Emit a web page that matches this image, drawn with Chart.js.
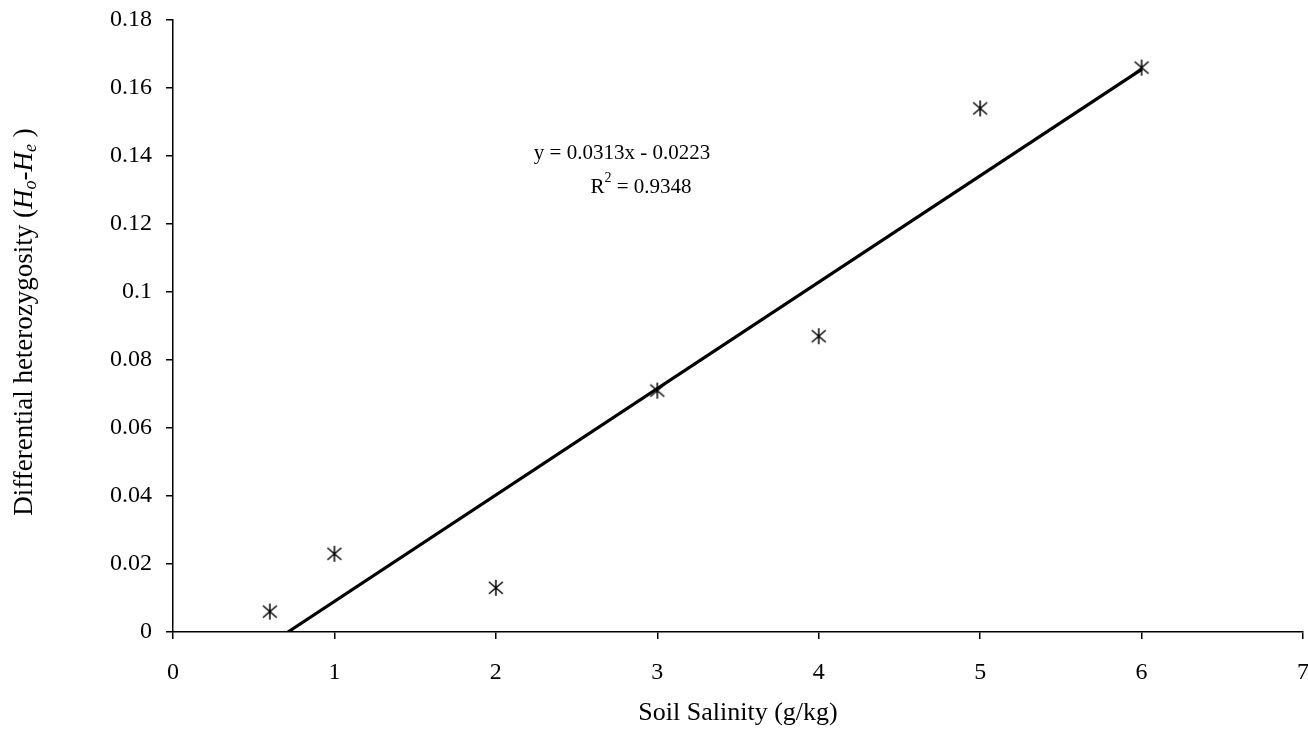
<!DOCTYPE html>
<html>
<head>
<meta charset="utf-8">
<script src="https://cdn.jsdelivr.net/npm/chart.js@4.4.1/dist/chart.umd.min.js"></script>
<style>
  html, body { margin: 0; padding: 0; background: #fff; }
  #wrap { width: 1308px; height: 732px; }
</style>
</head>
<body>
<div id="wrap"><canvas id="c"></canvas></div>
<script>
const salinity = [0.6, 1, 2, 3, 4, 5, 6]
const heteroDiff = [0.006, 0.023, 0.013, 0.071, 0.087, 0.154, 0.166]
const trendX = [0.712, 6]
const trendY = [0, 0.1655]
const eqLine = 'y = 0.0313x - 0.0223'
const r2Value = '0.9348'
const xTicks = [0, 1, 2, 3, 4, 5, 6, 7]
const yTicks = [0, 0.02, 0.04, 0.06, 0.08, 0.1, 0.12, 0.14, 0.16, 0.18]

const serif = "'Liberation Serif', 'Times New Roman', serif"

// asterisk marker: X plus a vertical bar
const mark = document.createElement('canvas')
mark.width = 18; mark.height = 18
{
  const g = mark.getContext('2d')
  g.strokeStyle = '#000'
  g.lineWidth = 1.5
  g.beginPath()
  g.moveTo(2, 3); g.lineTo(16, 15)
  g.moveTo(16, 3); g.lineTo(2, 15)
  g.moveTo(9, 1); g.lineTo(9, 17)
  g.stroke()
}

const pts = salinity.map((x, i) => ({x: x, y: heteroDiff[i]}))
const trend = trendX.map((x, i) => ({x: x, y: trendY[i]}))

// draws a run of [text, font, dy] pieces centred on 0
function drawRuns(ctx, parts, cy) {
  let total = 0
  parts.forEach(p => { ctx.font = p[1]; total += ctx.measureText(p[0]).width })
  let cx = -total / 2
  ctx.textAlign = 'left'
  parts.forEach(p => {
    ctx.font = p[1]
    ctx.fillText(p[0], cx, cy + p[2])
    cx += ctx.measureText(p[0]).width
  })
}

const extraText = {
  id: 'extraText',
  afterDraw(chart) {
    const {ctx, chartArea} = chart
    ctx.save()
    ctx.fillStyle = '#000'
    ctx.textBaseline = 'middle'

    // equation + R squared
    ctx.font = '21px ' + serif
    ctx.textAlign = 'center'
    ctx.fillText(eqLine, 622, 153)
    ctx.save()
    ctx.translate(641, 0)
    drawRuns(ctx, [
      ['R', '21px ' + serif, 0],
      ['2', '14px ' + serif, -9],
      [' = ' + r2Value, '21px ' + serif, 0]
    ], 187)
    ctx.restore()

    // x title
    ctx.font = '26px ' + serif
    ctx.textAlign = 'center'
    ctx.fillText('Soil Salinity (g/kg)', (chartArea.left + chartArea.right) / 2, 713)

    // y title with italic / subscripts
    ctx.translate(25, 322)
    ctx.rotate(-Math.PI / 2)
    drawRuns(ctx, [
      ['Differential heterozygosity (', '27px ' + serif, 0],
      ['H', 'italic 27px ' + serif, 0],
      ['o', 'italic 18px ' + serif, 6],
      ['-', '27px ' + serif, 0],
      ['H', 'italic 27px ' + serif, 0],
      ['e', 'italic 18px ' + serif, 6],
      [' )', '27px ' + serif, 0]
    ], 0)
    ctx.restore()
  }
}

new Chart(document.getElementById('c'), {
  type: 'scatter',
  data: {
    datasets: [{
      data: pts,
      pointStyle: mark,
      pointRadius: 1,
      pointHoverRadius: 1,
      pointBorderWidth: 0,
      order: 1
    }, {
      type: 'line',
      data: trend,
      borderColor: '#000',
      borderWidth: 3.2,
      pointRadius: 0,
      pointHoverRadius: 0,
      fill: false,
      order: 2
    }]
  },
  options: {
    responsive: true,
    maintainAspectRatio: false,
    animation: false,
    layout: { padding: { top: 0, right: 5, bottom: 0, left: 0 } },
    plugins: { legend: { display: false }, tooltip: { enabled: false } },
    scales: {
      x: {
        type: 'linear',
        min: 0, max: 7,
        afterBuildTicks: s => { s.ticks = xTicks.map(v => ({value: v})) },
        afterFit: s => { s.height = 100; s.paddingRight = 0; s.paddingLeft = 0 },
        border: { color: '#000', width: 1.5 },
        grid: { drawOnChartArea: false, color: '#000', tickLength: 7, lineWidth: 1.5 },
        ticks: { color: '#000', font: { family: serif, size: 24 }, padding: 19, maxRotation: 0 }
      },
      y: {
        min: 0, max: 0.18,
        afterBuildTicks: s => { s.ticks = yTicks.map(v => ({value: v})) },
        afterFit: s => { s.width = 173; s.paddingTop = 20; s.paddingBottom = 0 },
        border: { color: '#000', width: 1.5 },
        grid: { drawOnChartArea: false, color: '#000', tickLength: 7, lineWidth: 1.5 },
        ticks: { color: '#000', font: { family: serif, size: 24 }, padding: 14,
          callback: v => String(+v.toFixed(2)) }
      }
    }
  },
  plugins: [extraText]
})
</script>
</body>
</html>
